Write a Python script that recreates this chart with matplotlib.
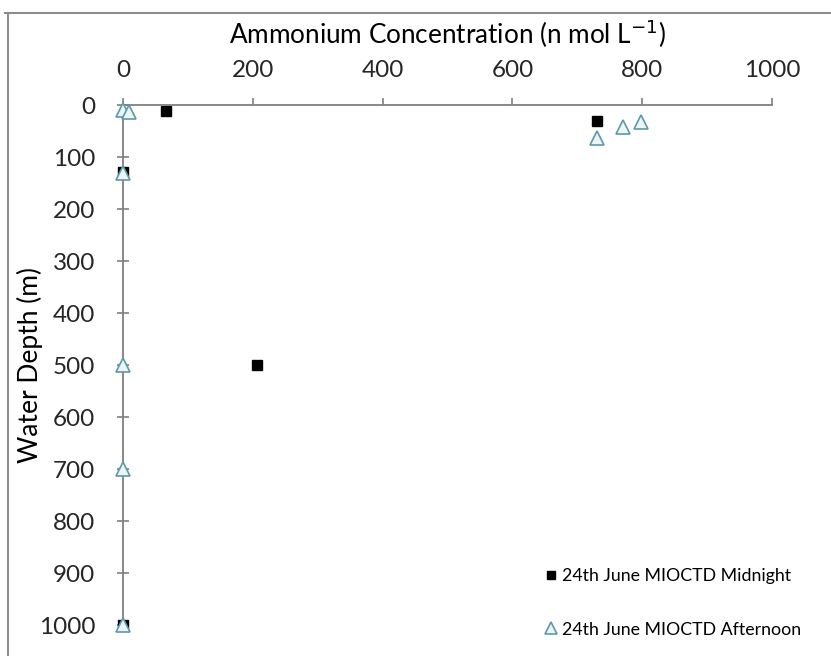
import matplotlib
matplotlib.use("Agg")
import matplotlib.pyplot as plt
from matplotlib.lines import Line2D

plt.rcParams['font.family'] = ['Lato', 'DejaVu Sans']

# Données (concentration, profondeur)
midnight_conc = [66, 730, 0, 207, 0]
midnight_depth = [11, 30, 128, 500, 1000]

afternoon_conc = [0, 10, 730, 771, 798, 0, 0, 0, 0]
afternoon_depth = [9, 13, 64, 43, 32, 131, 500, 700, 1000]

x_ticks = [0, 200, 400, 600, 800, 1000]
y_ticks = [0, 100, 200, 300, 400, 500, 600, 700, 800, 900, 1000]

W, H = 831, 656
fig = plt.figure(figsize=(W / 100, H / 100), dpi=100)
ax = fig.add_axes([123 / W, 1 - 625 / H, (772 - 123) / W, (625 - 105) / H])

ax.plot(afternoon_conc, afternoon_depth, linestyle="none", marker="^", markersize=10,
        markerfacecolor="#eaf5f8", markeredgecolor="#5f98a6", markeredgewidth=1.2,
        label="24th June MIOCTD Afternoon", zorder=3, clip_on=False)
ax.plot(midnight_conc, midnight_depth, linestyle="none", marker="s", markersize=6.5,
        color="black", label="24th June MIOCTD Midnight", zorder=2, clip_on=False)

ax.set_xlim(0, 1000)
ax.set_ylim(1000, 0)
ax.set_xticks(x_ticks)
ax.set_yticks(y_ticks)

ax.xaxis.tick_top()
ax.xaxis.set_label_position("top")
ax.set_xlabel("Ammonium Concentration (n mol L$^{-1}$)", fontsize=18.8, labelpad=12)
ax.set_ylabel("Water Depth (m)", fontsize=19)
ax.yaxis.set_label_coords((43 - 123) / (772 - 123), 0.5)

for s in ["right", "bottom"]:
    ax.spines[s].set_visible(False)
for s in ["top", "left"]:
    ax.spines[s].set_color("#7f7f7f")
    ax.spines[s].set_linewidth(1.3)

ax.tick_params(axis="x", direction="out", length=5, width=1.2, color="#7f7f7f",
               labelsize=17.5, pad=12)
ax.tick_params(axis="y", direction="inout", length=8, width=1.2, color="#7f7f7f",
               labelsize=17.5, pad=16)
for lab in ax.get_xticklabels() + ax.get_yticklabels():
    lab.set_color("#262626")

handles, labels = ax.get_legend_handles_labels()
ax.legend(handles[::-1], labels[::-1], loc="lower right", bbox_to_anchor=(1.07, -0.055),
          frameon=False, fontsize=12.8, labelspacing=2.1, handlelength=0.6,
          handletextpad=0.35, markerscale=0.8)

# Cadre de la zone du graphique (rogné à droite et en bas)
fig.add_artist(Line2D([5 / W, 1], [1 - 13 / H, 1 - 13 / H], color="#8c8c8c", lw=1.5))
fig.add_artist(Line2D([8 / W, 8 / W], [0, 1 - 13 / H], color="#8c8c8c", lw=1.5))

fig.savefig("out.png", dpi=100)
